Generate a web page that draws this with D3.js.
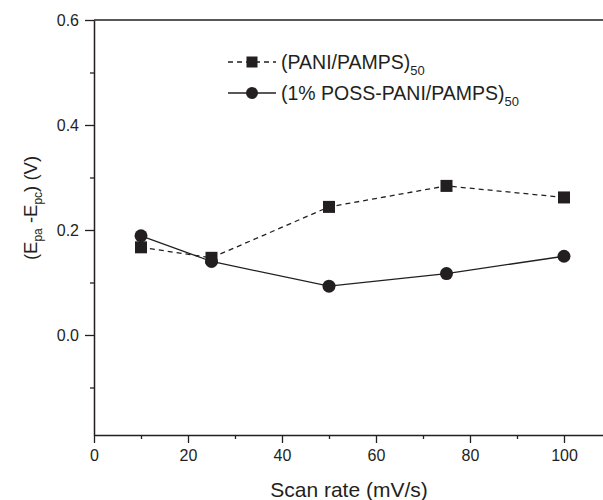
<!DOCTYPE html>
<html>
<head>
<meta charset="utf-8">
<script src="https://cdn.jsdelivr.net/npm/d3@7"></script>
<style>
  html, body { margin: 0; padding: 0; background: #fff; }
  svg { display: block; font-family: "Liberation Sans", Arial, sans-serif; }
</style>
</head>
<body>
<svg id="chart" width="603" height="500"></svg>
<script>
const scanRates = [10, 25, 50, 75, 100];
const paniPamps = [0.167, 0.147, 0.244, 0.284, 0.262];
const possPaniPamps = [0.189, 0.140, 0.093, 0.117, 0.150];
const seriesNames = ["(PANI/PAMPS)", "(1% POSS-PANI/PAMPS)"];
const seriesSub = "50";
const xMajorTicks = [0, 20, 40, 60, 80, 100];
const xMinorTicks = [10, 30, 50, 70, 90];
const yMajorTicks = [0.0, 0.2, 0.4, 0.6];
const yMinorTicks = [-0.1, 0.1, 0.3, 0.5];

(function () {
const ink = "#231f20";
const svg = d3.select("#chart");
const pLeft = 94, pRight = 603, pTop = 20, pBottom = 435;

const x = d3.scaleLinear().domain([0, 108.3]).range([pLeft, pRight]);
const y = d3.scaleLinear().domain([-0.1905, 0.6]).range([pBottom, pTop]);

// top border line
svg.append("line").attr("x1", pLeft).attr("x2", pRight).attr("y1", pTop).attr("y2", pTop)
  .attr("stroke", ink).attr("stroke-width", 1.5);

// X axis
svg.append("g").attr("transform", `translate(0,${pBottom})`)
  .call(d3.axisBottom(x).tickValues(xMajorTicks).tickSize(8).tickSizeOuter(0).tickPadding(7).tickFormat(d3.format("d")));
svg.append("g").attr("transform", `translate(0,${pBottom})`)
  .call(d3.axisBottom(x).tickValues(xMinorTicks).tickSize(4).tickSizeOuter(0).tickFormat(""))
  .select(".domain").remove();

// Y axis
svg.append("g").attr("transform", `translate(${pLeft},0)`)
  .call(d3.axisLeft(y).tickValues(yMajorTicks).tickSize(9).tickSizeOuter(0).tickPadding(6).tickFormat(d3.format(".1f")));
svg.append("g").attr("transform", `translate(${pLeft},0)`)
  .call(d3.axisLeft(y).tickValues(yMinorTicks).tickSize(4).tickSizeOuter(0).tickFormat(""))
  .select(".domain").remove();

svg.selectAll(".domain").attr("stroke", ink).attr("stroke-width", 1.5);
svg.selectAll(".tick line").attr("stroke", ink).attr("stroke-width", 1.3);
svg.selectAll(".tick text").attr("fill", ink).attr("font-size", 16)
  .attr("font-family", "'Liberation Sans', Arial, sans-serif");

// Axis titles
svg.append("text").attr("x", (x(0) + x(100)) / 2 + 20).attr("y", 497)
  .attr("text-anchor", "middle").attr("font-size", 21).attr("fill", ink)
  .text("Scan rate (mV/s)");

const yl = svg.append("text").attr("transform", "translate(37,208) rotate(-90)")
  .attr("text-anchor", "middle").attr("font-size", 18.5).attr("fill", ink);
yl.append("tspan").text("(E");
yl.append("tspan").attr("font-size", 12).attr("dy", 5).text("pa");
yl.append("tspan").attr("dy", -5).text(" -E");
yl.append("tspan").attr("font-size", 12).attr("dy", 5).text("pc");
yl.append("tspan").attr("dy", -5).text(") (V)");

// Lines
const lineGen = d3.line().x(d => x(d[0])).y(d => y(d[1]));
const sq = scanRates.map((r, i) => [r, paniPamps[i]]);
const ci = scanRates.map((r, i) => [r, possPaniPamps[i]]);

svg.append("path").datum(sq).attr("d", lineGen).attr("fill", "none")
  .attr("stroke", ink).attr("stroke-width", 1.3).attr("stroke-dasharray", "5,4");
svg.append("path").datum(ci).attr("d", lineGen).attr("fill", "none")
  .attr("stroke", ink).attr("stroke-width", 1.3);

const sqSize = 12, cR = 6.5;
svg.selectAll("rect.sq").data(sq).enter().append("rect").attr("class", "sq")
  .attr("x", d => x(d[0]) - sqSize / 2).attr("y", d => y(d[1]) - sqSize / 2)
  .attr("width", sqSize).attr("height", sqSize).attr("fill", ink);
svg.selectAll("circle.ci").data(ci).enter().append("circle").attr("class", "ci")
  .attr("cx", d => x(d[0])).attr("cy", d => y(d[1])).attr("r", cR).attr("fill", ink);

// Legend
const lg = svg.append("g");
const rows = [62, 93];
lg.append("line").attr("x1", 228).attr("x2", 276).attr("y1", rows[0]).attr("y2", rows[0])
  .attr("stroke", ink).attr("stroke-width", 1.3).attr("stroke-dasharray", "5,4");
lg.append("rect").attr("x", 252 - 11 / 2).attr("y", rows[0] - 11 / 2)
  .attr("width", 11).attr("height", 11).attr("fill", ink);
lg.append("line").attr("x1", 228).attr("x2", 276).attr("y1", rows[1]).attr("y2", rows[1])
  .attr("stroke", ink).attr("stroke-width", 1.3);
lg.append("circle").attr("cx", 252).attr("cy", rows[1]).attr("r", 6).attr("fill", ink);

seriesNames.forEach((name, i) => {
  const t = lg.append("text").attr("x", 281).attr("y", rows[i] + 7)
    .attr("font-size", 19.5).attr("fill", ink);
  t.append("tspan").text(name);
  t.append("tspan").attr("font-size", 13).attr("dy", 6).text(seriesSub);
});
})();
</script>
</body>
</html>
